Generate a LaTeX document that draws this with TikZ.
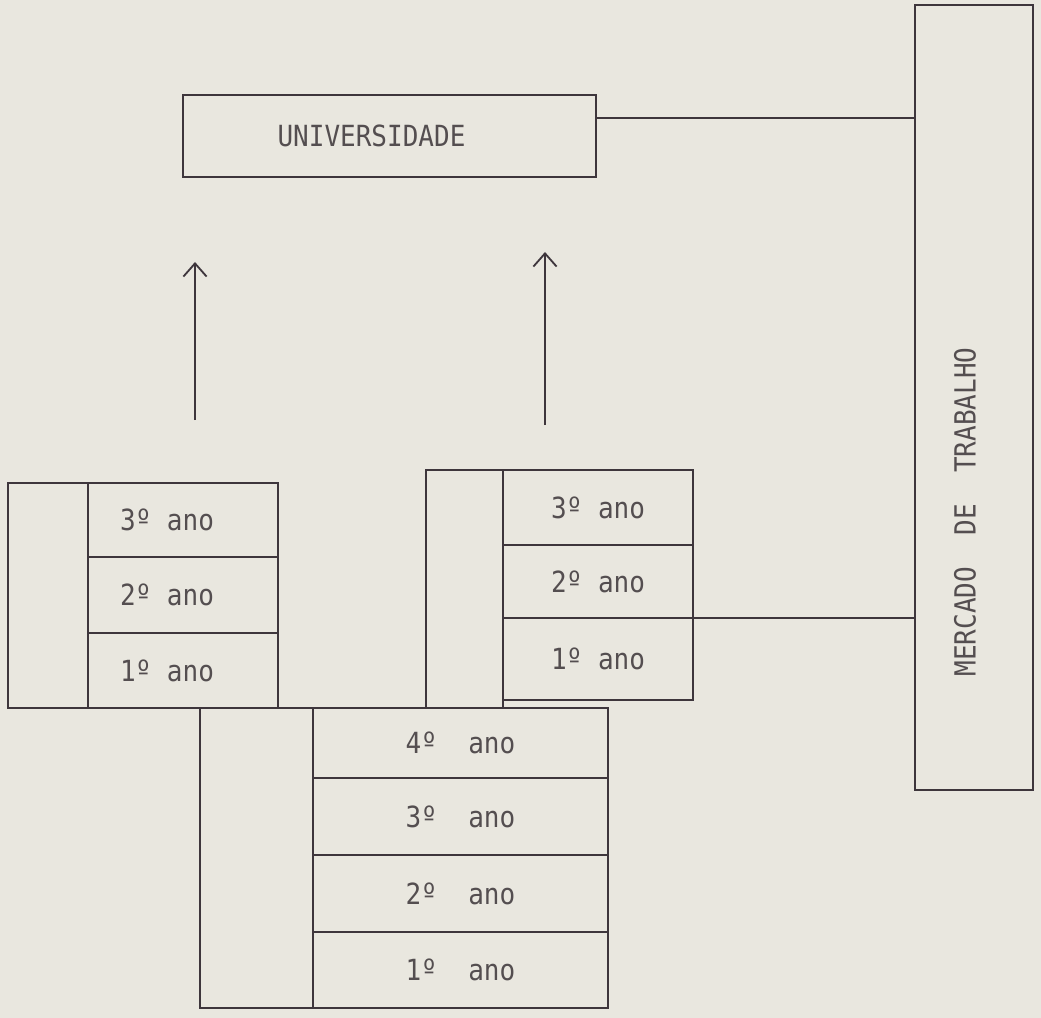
\documentclass[tikz,border=0pt]{standalone}
\usepackage{fontspec}
\usepackage{xcolor}
\usepackage{graphicx}
\usepackage{tikz}
\usetikzlibrary{arrows.meta,positioning,calc}
\newfontfamily\maquina{DejaVu Sans Mono}
\definecolor{papel}{RGB}{233,231,223}
\definecolor{tinta}{RGB}{62,54,60}
\definecolor{letra}{RGB}{84,78,80}
\newcommand{\alto}[1]{\scalebox{1}[1.12]{#1}}

\begin{document}
\begin{tikzpicture}[x=0.025cm,y=-0.025cm,
  font=\maquina\fontsize{18.5}{22}\selectfont,
  caixa/.style={draw=tinta,line width=1.6pt,inner sep=0pt,outer sep=0pt,text=letra},
  seta/.style={draw=tinta,line width=1.3pt,-{Straight Barb[length=3.3mm,width=5.8mm]}}]
\fill[papel] (0,0) rectangle (1041,1018);
\useasboundingbox (0,0) rectangle (1041,1018);
% universidade e mercado de trabalho
\node[caixa,minimum width=10.325cm,minimum height=2.05cm] (univ) at (389.5,136) {\alto{UNIVERSIDADE}\kern0.9cm};
\node[caixa,minimum width=2.95cm,minimum height=19.625cm] (mercado) at (974,397.5) {};
\node[rotate=90,text=letra] (mercadotxt) at (965,512) {\alto{MERCADO\ \ DE\ \ TRABALHO}};
% bloco da esquerda
\node[caixa,minimum width=2cm,minimum height=5.625cm] (a0) at (48,595.5) {};
\node[caixa,minimum width=4.75cm,minimum height=1.85cm] (a3) at (183,520) {\alto{3º ano}\kern0.8cm};
\node[caixa,minimum width=4.75cm,minimum height=1.9cm] (a2) at (183,595) {\alto{2º ano}\kern0.8cm};
\node[caixa,minimum width=4.75cm,minimum height=1.875cm] (a1) at (183,670.5) {\alto{1º ano}\kern0.8cm};
% bloco do meio
\node[caixa,minimum width=1.925cm,minimum height=5.95cm] (b0) at (464.5,589) {};
\node[caixa,minimum width=4.75cm,minimum height=1.875cm] (b3) at (598,507.5) {\alto{3º ano}};
\node[caixa,minimum width=4.75cm,minimum height=1.825cm] (b2) at (598,581.5) {\alto{2º ano}};
\node[caixa,minimum width=4.75cm,minimum height=2.05cm] (b1) at (598,659) {\alto{1º ano}};
% bloco de baixo
\node[caixa,minimum width=2.825cm,minimum height=7.5cm] (c0) at (256.5,858) {};
\node[caixa,minimum width=7.375cm,minimum height=1.75cm] (c4) at (460.5,743) {\alto{4º\ \ ano}};
\node[caixa,minimum width=7.375cm,minimum height=1.925cm] (c3) at (460.5,816.5) {\alto{3º\ \ ano}};
\node[caixa,minimum width=7.375cm,minimum height=1.925cm] (c2) at (460.5,893.5) {\alto{2º\ \ ano}};
\node[caixa,minimum width=7.375cm,minimum height=1.9cm] (c1) at (460.5,970) {\alto{1º\ \ ano}};
% ligacoes
\draw[tinta,line width=1.4pt] ([yshift=0.45cm]univ.east) -- ([yshift=0.45cm]univ.east -| mercado.west);
\draw[tinta,line width=1.4pt] (b2.south east) -- (b2.south east -| mercado.west);
\coordinate (setaA0) at (195,420);
\coordinate (setaA1) at (195,262);
\coordinate (setaB0) at (545,425);
\coordinate (setaB1) at (545,252);
\draw[seta] (setaA0) -- (setaA1);
\draw[seta] (setaB0) -- (setaB1);
\end{tikzpicture}
\end{document}
